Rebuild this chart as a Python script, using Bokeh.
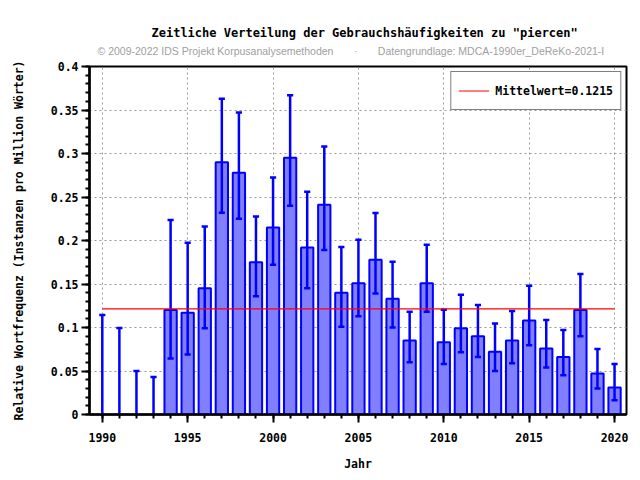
from bokeh.plotting import figure
from bokeh.models import (Range1d, FixedTicker, CustomJSTickFormatter, Title,
                          Legend, LegendItem)
from bokeh.embed import file_html
from bokeh.resources import INLINE

# ---- data -------------------------------------------------------------
years = list(range(1990, 2021))
values = [0, 0, 0, 0,
          0.120, 0.117, 0.145, 0.290, 0.278, 0.175, 0.215, 0.295, 0.192, 0.241,
          0.140, 0.151, 0.178, 0.133, 0.085, 0.151, 0.083, 0.099, 0.090, 0.072,
          0.085, 0.108, 0.076, 0.066, 0.120, 0.047, 0.031]
lower = [0, 0, 0, 0,
         0.0645, 0.069, 0.099, 0.232, 0.225, 0.136, 0.172, 0.240, 0.145, 0.189,
         0.101, 0.113, 0.139, 0.100, 0.060, 0.118, 0.058, 0.0715, 0.066, 0.050,
         0.059, 0.0795, 0.054, 0.045, 0.090, 0.030, 0.0165]
upper = [0.1145, 0.0995, 0.050, 0.043,
         0.2236, 0.1975, 0.216, 0.363, 0.347, 0.2275, 0.2724, 0.367, 0.256, 0.308,
         0.1925, 0.2009, 0.2317, 0.1756, 0.118, 0.195, 0.1203, 0.1376, 0.126, 0.1045,
         0.119, 0.148, 0.1087, 0.0972, 0.1614, 0.0753, 0.058]
mean_value = 0.1215
x_ticks = [1990, 1995, 2000, 2005, 2010, 2015, 2020]
y_ticks = [0, 0.05, 0.1, 0.15, 0.2, 0.25, 0.3, 0.35, 0.4]
y_minor = [i / 100 for i in range(0, 41)]

title_text = 'Zeitliche Verteilung der Gebrauchshäufigkeiten zu "piercen"'
NB = "\u00a0"
subtitle_text = ("© 2009-2022 IDS Projekt Korpusanalysemethoden" + NB * 7 + "·"
                 + NB * 7 + "Datengrundlage: MDCA-1990er_DeReKo-2021-I")
x_label = "Jahr"
y_label = "Relative Wortfrequenz (Instanzen pro Million Wörter)"
legend_text = "Mittelwert=0.1215"

MONO = "DejaVu Sans Mono"
FS = "11.5px"

# ---- figure -----------------------------------------------------------
p = figure(width=640, height=480, output_backend="svg", toolbar_location=None,
           x_range=Range1d(1989.25, 2020.7), y_range=Range1d(0, 0.4),
           min_border_left=89, min_border_right=14, min_border_top=66,
           min_border_bottom=66, background_fill_color="white",
           border_fill_color="white")
p.outline_line_color = "black"
p.outline_line_width = 2

# titles: spacer (closest to frame), subtitle, main title
p.add_layout(Title(text=NB, text_font_size="1px", standoff=4), "above")
p.add_layout(Title(text=subtitle_text, align="left", offset=8,
                   text_font="Liberation Sans", text_font_size="10.5px",
                   text_font_style="normal", text_color="#a0a0a0",
                   standoff=5), "above")
p.add_layout(Title(text=title_text, align="left", offset=62,
                   text_font=MONO, text_font_size="12px",
                   text_font_style="bold", text_color="black",
                   standoff=1), "above")

# bars (only years with a value)
bx = [y for y, v in zip(years, values) if v > 0]
bv = [v for v in values if v > 0]
p.vbar(x=bx, top=bv, bottom=0, width=0.72, fill_color="#8080ff",
       line_color="#0000ff", line_width=2)

# error bars
p.segment(x0=years, x1=years, y0=lower, y1=upper, line_color="#0000ff",
          line_width=2.5)
cap = 0.18
p.segment(x0=[y - cap for y in years], x1=[y + cap for y in years],
          y0=upper, y1=upper, line_color="#0000ff", line_width=2.5)
lx = [y for y, l in zip(years, lower) if l > 0]
ll = [l for l in lower if l > 0]
p.segment(x0=[y - cap for y in lx], x1=[y + cap for y in lx],
          y0=ll, y1=ll, line_color="#0000ff", line_width=2.5)

# mean line
mean_r = p.line(x=[years[0], years[-1]], y=[mean_value, mean_value],
                line_color="red", line_width=1.2)

legend = Legend(items=[LegendItem(label=legend_text, renderers=[mean_r])],
                location="top_right", margin=5, padding=7,
                glyph_width=31, glyph_height=23, label_standoff=6,
                label_text_font=MONO, label_text_font_size=FS,
                label_text_font_style="bold", label_text_color="black",
                border_line_color="black",
                border_line_width=1.5, background_fill_alpha=1)
p.add_layout(legend)

# axes
xa = p.xaxis[0]
xa.ticker = FixedTicker(ticks=x_ticks, minor_ticks=years)
xa.axis_label = x_label
ya = p.yaxis[0]
ya.ticker = FixedTicker(ticks=y_ticks, minor_ticks=y_minor)
ya.formatter = CustomJSTickFormatter(code="return String(tick);")
ya.axis_label = y_label
for ax in (xa, ya):
    ax.axis_line_width = 2.5
    ax.axis_line_color = "black"
    ax.major_tick_line_width = 2
    ax.minor_tick_line_width = 2
    ax.major_tick_out = 8
    ax.major_tick_in = 0
    ax.minor_tick_out = 4
    ax.minor_tick_in = 0
    ax.major_label_text_font = MONO
    ax.major_label_text_font_size = FS
    ax.major_label_text_font_style = "bold"
    ax.major_label_text_color = "black"
    ax.axis_label_text_font = MONO
    ax.axis_label_text_font_size = FS
    ax.axis_label_text_font_style = "bold"
    ax.axis_label_text_color = "black"
xa.major_label_standoff = 10
xa.axis_label_standoff = 12
ya.major_label_standoff = 3
ya.axis_label_standoff = 22

for g in (p.xgrid[0], p.ygrid[0]):
    g.grid_line_color = "#999999"
    g.grid_line_dash = "2 3"
    g.grid_line_width = 1
p.xgrid[0].ticker = FixedTicker(ticks=x_ticks)
p.ygrid[0].ticker = FixedTicker(ticks=y_ticks)

open("out.html", "w").write(file_html(p, INLINE))
